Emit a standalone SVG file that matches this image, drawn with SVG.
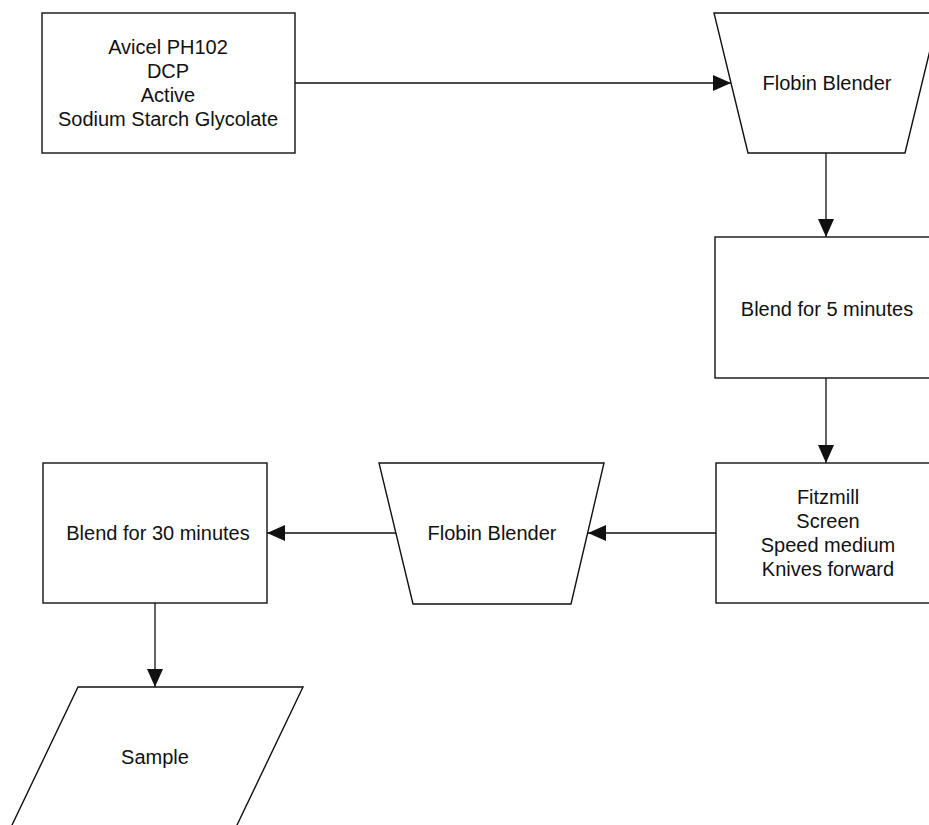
<svg xmlns="http://www.w3.org/2000/svg" width="929" height="825" viewBox="0 0 929 825">
<defs>
<style>
.s{fill:#fff;stroke:#111;stroke-width:1.4}
.t{font-family:"Liberation Sans",Arial,sans-serif;font-size:20px;fill:#111;text-anchor:middle}
.c{fill:none;stroke:#111;stroke-width:1.3}
</style>
<marker id="ah" markerWidth="18" markerHeight="16" refX="18" refY="8" orient="auto" markerUnits="userSpaceOnUse">
<path d="M0,0 L18,8 L0,16 Z" fill="#111"/>
</marker>
</defs>
<rect width="929" height="825" fill="#fff"/>
<g id="connectors">
<line class="c" x1="295" y1="83" x2="731" y2="83" marker-end="url(#ah)"/>
<line class="c" x1="826" y1="153" x2="826" y2="237" marker-end="url(#ah)"/>
<line class="c" x1="826" y1="378" x2="826" y2="463" marker-end="url(#ah)"/>
<line class="c" x1="716" y1="533" x2="588" y2="533" marker-end="url(#ah)"/>
<line class="c" x1="396" y1="533" x2="267" y2="533" marker-end="url(#ah)"/>
<line class="c" x1="155" y1="603" x2="155" y2="687" marker-end="url(#ah)"/>
</g>
<g id="ingredients">
<rect class="s" x="42" y="13" width="253" height="140"/>
<text class="t" x="168" y="54">Avicel PH102</text>
<text class="t" x="168" y="78">DCP</text>
<text class="t" x="168" y="102">Active</text>
<text class="t" x="168" y="126">Sodium Starch Glycolate</text>
</g>
<g id="blender1">
<polygon class="s" points="714,13 939,13 905,153 748,153"/>
<text class="t" x="827" y="90">Flobin Blender</text>
</g>
<g id="blend5">
<rect class="s" x="715" y="237" width="224" height="141"/>
<text class="t" x="827" y="316">Blend for 5 minutes</text>
</g>
<g id="fitzmill">
<rect class="s" x="716" y="463" width="223" height="140"/>
<text class="t" x="828" y="504">Fitzmill</text>
<text class="t" x="828" y="528">Screen</text>
<text class="t" x="828" y="552">Speed medium</text>
<text class="t" x="828" y="576">Knives forward</text>
</g>
<g id="blender2">
<polygon class="s" points="379,463 604,463 571,604 413,604"/>
<text class="t" x="492" y="540">Flobin Blender</text>
</g>
<g id="blend30">
<rect class="s" x="43" y="463" width="224" height="140"/>
<text class="t" x="158" y="540">Blend for 30 minutes</text>
</g>
<g id="sample">
<polygon class="s" points="78,687 303,687 227,846 2,846"/>
<text class="t" x="155" y="764">Sample</text>
</g>
</svg>
